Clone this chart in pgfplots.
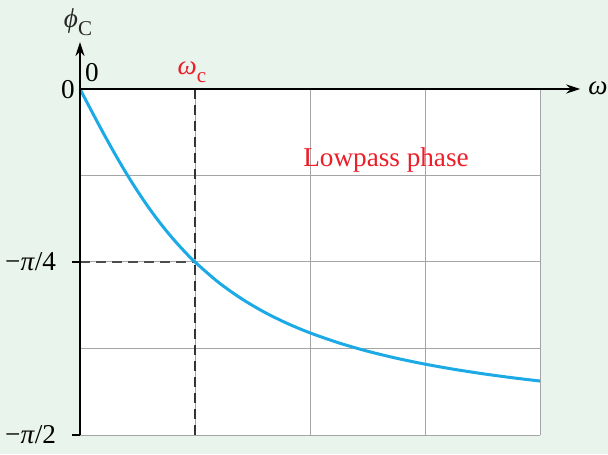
\documentclass[border=0pt]{standalone}
\usepackage{fontspec}
\setmainfont{Liberation Serif}
\usepackage{pgfplots}
\pgfplotsset{compat=1.18}
\usetikzlibrary{arrows.meta}

\definecolor{bgc}{RGB}{233,244,236}
\definecolor{curvec}{RGB}{28,170,230}
\definecolor{redc}{RGB}{236,30,40}
\definecolor{gridc}{RGB}{165,165,165}

\begin{document}
\begin{tikzpicture}[every node/.style={font=\fontsize{13.6}{16}\selectfont}]
\fill[bgc] (0,0) rectangle (304pt,227pt);

\begin{axis}[%
at={(40pt,9.5pt)}, anchor=south west,
scale only axis,
width=230pt,
height=173pt,
xmin=0, xmax=4,
ymin=-1.5708, ymax=0,
axis background/.style={fill=white},
axis line style={draw=none},
tick style={draw=none},
xtick={1,2,3,4},
ytick={-1.5708,-1.1781,-0.7854,-0.3927},
xticklabels={}, yticklabels={},
grid=major,
major grid style={gridc, line width=0.5pt},
clip=false
]
% dashed guides at the corner frequency
\draw[black!80, line width=1pt, dash pattern=on 5pt off 3pt] (axis cs:1,0) -- (axis cs:1,-1.5708);
\draw[black!70, line width=1pt, dash pattern=on 5pt off 3pt] (axis cs:0,-0.7854) -- (axis cs:1,-0.7854);

% phase of the lowpass: -atan(w/wc)
\addplot[curvec, line width=1.5pt, smooth] coordinates {
(0,0) (0.1,-0.09967) (0.2,-0.19740) (0.3,-0.29146) (0.4,-0.38051)
(0.5,-0.46365) (0.6,-0.54042) (0.7,-0.61073) (0.8,-0.67474) (0.9,-0.73282)
(1.0,-0.78540) (1.2,-0.87606) (1.4,-0.95055) (1.6,-1.01220) (1.8,-1.06370)
(2.0,-1.10715) (2.25,-1.15257) (2.5,-1.19029) (2.75,-1.22203) (3.0,-1.24905)
(3.25,-1.27230) (3.5,-1.29250) (3.75,-1.31019) (4.0,-1.32582)
};

% axes with arrows
\draw[line width=1pt, -{Stealth[length=7pt,width=4.5pt]}] (axis cs:0,0) -- (axis cs:4.35,0);
\draw[line width=1pt, -{Stealth[length=7pt,width=4.5pt]}] (axis cs:0,-1.5708) -- (axis cs:0,0.2134);
\draw[line width=1pt] (axis cs:0,-0.7854) -- ([xshift=-4pt]axis cs:0,-0.7854);
\draw[line width=1pt] (axis cs:0,-1.5708) -- ([xshift=-4pt]axis cs:0,-1.5708);
\end{axis}

% labels
\node[text=black!85] at (39pt,216pt) {\textit{ϕ}\raisebox{-0.3em}{\fontsize{10.5}{12}\selectfont C}};
\node[anchor=west, inner sep=1pt] at (293pt,183pt) {\textit{ω}};
\node at (46pt,190.5pt) {0};
\node at (34pt,182pt) {0};
\node[text=redc] at (96pt,191pt) {\textit{ω}\raisebox{-0.3em}{\fontsize{10.5}{12}\selectfont c}};
\node[anchor=east] at (31.5pt,96pt) {−\textit{π}/4};
\node[anchor=east] at (31.5pt,9.5pt) {−\textit{π}/2};
\node[text=redc] at (193pt,147pt) {Lowpass phase};

\pgfresetboundingbox
\path[use as bounding box] (0,0) rectangle (304pt,227pt);
\end{tikzpicture}
\end{document}
